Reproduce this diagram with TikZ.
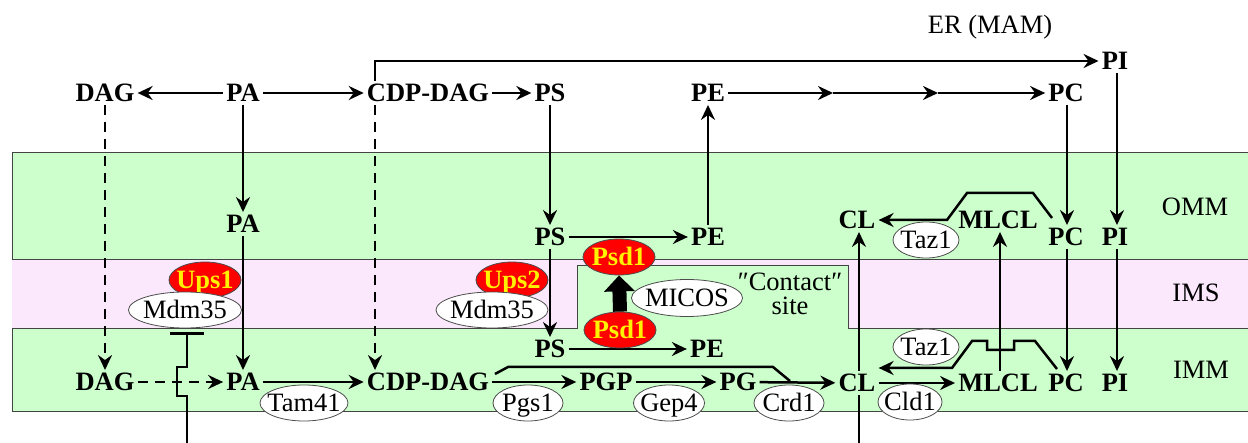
\documentclass[tikz,border=0pt]{standalone}
\usepackage{fontspec}
\setmainfont{Liberation Serif}
\usetikzlibrary{arrows.meta,shapes.geometric}
\definecolor{memgreen}{HTML}{CCFFCC}
\definecolor{imspink}{HTML}{FCE8FC}
\definecolor{bord}{HTML}{444444}
\newcommand\zw[1]{\makebox[0pt]{#1}}
\begin{document}
\begin{tikzpicture}[x=1pt,y=-1pt,
  met/.style={font=\fontsize{26.5}{28}\selectfont\bfseries, inner sep=3pt, text height=17.5pt, text depth=0pt},
  lbl/.style={font=\fontsize{26.5}{28}\selectfont, inner sep=0pt, text height=17.5pt, text depth=0pt},
  enz/.style={ellipse, draw=black!70, line width=0.8pt, fill=white, inner sep=0pt, minimum height=36pt, font=\fontsize{26.5}{28}\selectfont, text height=17.5pt, text depth=0pt},
  redenz/.style={enz, fill=red, text=yellow, font=\fontsize{26.5}{28}\selectfont\bfseries},
  ln/.style={line width=2.5pt},
  arr/.style={ln, -{Stealth[length=15pt,width=14pt,inset=5pt]}},
  dsh/.style={arr, dash pattern=on 10pt off 7pt},
  band/.style={draw=bord, line width=0.9pt}
]
\useasboundingbox (0,0) rectangle (1248,443);
% membranes
\fill[imspink] (12,259) rectangle (1252,328);
\draw[band, fill=memgreen] (12,152) rectangle (1252,259);
\draw[band, fill=memgreen] (12,328) -- (577,328) -- (577,265) -- (848,265) -- (848,328) -- (1252,328) -- (1252,411) -- (12,411) -- cycle;

% side labels
\node[lbl] (er) at (990,25) {ER (MAM)};
\node[lbl] (omm) at (1195,207) {OMM};
\node[lbl] (ims) at (1196,293) {IMS};
\node[lbl] (imm) at (1201,370) {IMM};
\node[font=\fontsize{26.5}{24}\selectfont, inner sep=0pt, align=center] (contact) at (790,294) {″Contact″\\site};

% top (ER) row
\node[met] (dag1) at (105,93) {DAG};
\node[met] (pa1) at (243,93) {PA};
\node[met] (cdp1) at (428,93) {CDP-DAG};
\node[met] (ps1) at (550,93) {PS};
\node[met] (pe1) at (708,93) {PE};
\node[met] (pc1) at (1066,93) {PC};
\node[met] (pi1) at (1115,61) {PI};
\coordinate (m1) at (833,93);
\coordinate (m2) at (938,93);

% OMM row
\node[met] (pa2) at (243,224) {PA};
\node[met] (ps2) at (550,237) {PS};
\node[met] (pe2) at (708,237) {PE};
\node[met] (cl1) at (857,220) {CL};
\node[met] (mlcl1) at (998,220) {MLCL};
\node[met] (pc2) at (1066,237) {PC};
\node[met] (pi2) at (1115,237) {PI};

% IMM row
\node[met] (ps3) at (550,349) {PS};
\node[met] (pe3) at (707,349) {PE};
\node[met] (dag3) at (105,382) {DAG};
\node[met] (pa3) at (243,382) {PA};
\node[met] (cdp3) at (428,382) {CDP-DAG};
\node[met] (pgp) at (606,382) {PGP};
\node[met] (pg) at (738,382) {PG};
\node[met] (cl3) at (857,383) {CL};
\node[met] (mlcl3) at (998,383) {MLCL};
\node[met] (pc3) at (1066,383) {PC};
\node[met] (pi3) at (1115,383) {PI};

% ER connectors
\draw[arr] (pa1) -- (dag1);
\draw[arr] (pa1) -- (cdp1);
\draw[arr] (cdp1) -- (ps1);
\draw[arr] (pe1) -- (m1);
\draw[arr] (m1) -- (m2);
\draw[arr] (m2) -- (pc1);
\draw[arr] ([xshift=-53pt]cdp1.north) |- (pi1.west);

% vertical transport
\draw[dsh] (dag1) -- (dag3);
\draw[dsh] ([xshift=-53pt]cdp1.south) -- ([xshift=-53pt]cdp3.north);
\draw[arr] (pa1) -- (pa2);
\draw[arr] (pa2) -- (pa3);
\draw[arr] (ps1) -- (ps2);
\draw[arr] (ps2) -- (ps3);
\draw[arr] (pe2) -- (pe1);
\draw[arr] ([xshift=1pt]pc1.south) -- ([xshift=1pt]pc2.north);
\draw[arr] ([xshift=1pt]pc2.south) -- ([xshift=1pt]pc3.north);
\draw[arr] ([xshift=2pt]pi1.south) -- ([xshift=2pt]pi2.north);
\draw[arr] ([xshift=2pt]pi2.south) -- ([xshift=2pt]pi3.north);

% OMM connectors
\draw[arr] (ps2) -- (pe2);
\draw[arr, line join=miter] (1052,218) -- (1033,193) -- (967,193) -- (947,220) -- (cl1.east);

% IMM connectors
\draw[arr] (ps3) -- (pe3);
\draw[dsh] (dag3) -- (pa3);
\draw[arr] (pa3) -- (cdp3);
\draw[arr] (cdp3) -- (pgp);
\draw[arr] (pgp) -- (pg);
\draw[arr] (pg) -- (cl3);
\draw[ln, line join=miter] (495,374) -- (508,367) -- (773,367) -- (790,381);
\draw[arr] (cl3) -- (mlcl3);
\draw[arr, line join=miter] (1057,369) -- (1035,341) -- (1014,341) -- (1014,350) -- (987,350) -- (987,341) -- (972,341) -- (952,368) -- ([shift={(0,-15)}]cl3.east);
\draw[arr] ([xshift=2pt]mlcl3.north) -- ([xshift=2pt]mlcl1.south);
\coordinate (clbot) at (859,443);
\draw[ln] (clbot) -- ([xshift=2pt]cl3.south);
\draw[arr] ([xshift=2pt]cl3.north) -- ([xshift=2pt]cl1.south);

% enzymes
\node[redenz, minimum width=72pt] (ups1) at (205,280) {\zw{Ups1}};
\node[enz, minimum width=113pt] (mdm1) at (185,310) {\zw{Mdm35}};
\node[redenz, minimum width=72pt] (ups2) at (512,280) {\zw{Ups2}};
\node[enz, minimum width=112pt] (mdm2) at (492,310) {\zw{Mdm35}};
\node[enz, minimum width=88pt] (tam) at (304,403) {\zw{Tam41}};
\node[redenz, minimum width=72pt] (psd1a) at (619,257) {\zw{Psd1}};
\node[redenz, minimum width=72pt] (psd1b) at (620,330) {\zw{Psd1}};
\node[enz, minimum width=111pt, minimum height=37pt] (micos) at (687,298) {\zw{MICOS}};
\node[enz, minimum width=70pt] (pgs) at (528,403) {\zw{Pgs1}};
\node[enz, minimum width=71pt] (gep) at (669,403) {\zw{Gep4}};
\node[enz, minimum width=70pt] (crd) at (789,403) {\zw{Crd1}};
\node[enz, minimum width=66pt] (taz1) at (926,240) {\zw{Taz1}};
\node[enz, minimum width=66pt] (taz2) at (926,347) {\zw{Taz1}};
\node[enz, minimum width=64pt] (cld) at (910,402) {\zw{Cld1}};

% MICOS-driven Psd1 relocation
\draw[line width=14pt, -{Triangle[length=16pt,width=30pt]}] (psd1b.north) -- (psd1a.south);

% Ups1 / Mdm35 inhibition line with jump
\coordinate (ubot) at (187,443);
\draw[ln, line join=miter, -{Bar[width=34pt,line width=2.5pt]}] (ubot) -- (187,396) -- (177,396) -- (177,367) -- (187,367) -- ([shift={(2,4)}]mdm1.south);
\end{tikzpicture}
\end{document}
